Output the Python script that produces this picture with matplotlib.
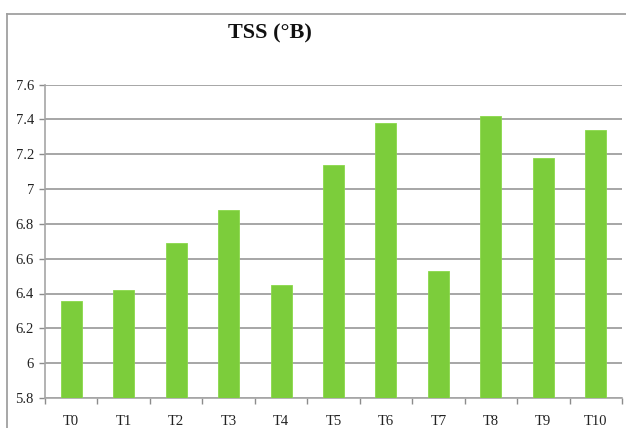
import matplotlib
matplotlib.use("Agg")
import matplotlib.pyplot as plt
from matplotlib.lines import Line2D
import numpy as np

categories = ["T0", "T1", "T2", "T3", "T4", "T5", "T6", "T7", "T8", "T9", "T10"]
tss_values = [6.356, 6.421, 6.692, 6.879, 6.45, 7.139, 7.38, 6.527, 7.42, 7.18, 7.34]
y_ticks = [5.8, 6.0, 6.2, 6.4, 6.6, 6.8, 7.0, 7.2, 7.4, 7.6]
title_text = "TSS (\u00b0B)"

W, H = 626, 428
fig = plt.figure(figsize=(W / 100, H / 100), dpi=100)
fig.patch.set_facecolor("white")

ax = fig.add_axes([45 / W, 1 - 398 / H, (622 - 45) / W, (398 - 84.5) / H])

x = np.arange(len(categories))
ax.bar(x, tss_values, width=0.4, color="#7ccd3b", edgecolor="#8ad84a",
       linewidth=0.6, zorder=3)

ax.set_xlim(-0.5, len(categories) - 0.5)
ax.set_ylim(5.8, 7.6)
ax.set_yticks(y_ticks)
ax.set_yticklabels([f"{v:g}" for v in y_ticks])
ax.yaxis.grid(True, color="#a6a6a6", linewidth=1.4, zorder=0)
ax.set_axisbelow(True)

ax.set_xticks(x)
ax.set_xticklabels(categories)
ax.set_xticks(np.arange(-0.5, len(categories)), minor=True)
ax.tick_params(axis="x", which="major", length=0, pad=12)
ax.tick_params(axis="x", which="minor", length=4, color="#8c8c8c", width=1)
ax.tick_params(axis="y", length=4, color="#8c8c8c", width=1, pad=4)

for lab in ax.get_xticklabels() + ax.get_yticklabels():
    lab.set_fontfamily("Liberation Serif")
    lab.set_fontsize(10.5)
    lab.set_color("#222222")

for s in ["top", "right"]:
    ax.spines[s].set_visible(False)
for s in ["left", "bottom"]:
    ax.spines[s].set_color("#a6a6a6")
    ax.spines[s].set_linewidth(1.2)

fig.text(270 / W, 1 - 33 / H, title_text, ha="center", va="center",
         fontfamily="Liberation Serif", fontweight="bold", fontsize=16,
         color="#111111")

# outer chart border (top and left visible)
fig.add_artist(Line2D([7 / W, 1.0], [1 - 14 / H, 1 - 14 / H],
                      transform=fig.transFigure, color="#a0a0a0", linewidth=1.3))
fig.add_artist(Line2D([7 / W, 7 / W], [0.0, 1 - 14 / H],
                      transform=fig.transFigure, color="#a0a0a0", linewidth=1.3))

fig.savefig("out.png", dpi=100, facecolor="white")
